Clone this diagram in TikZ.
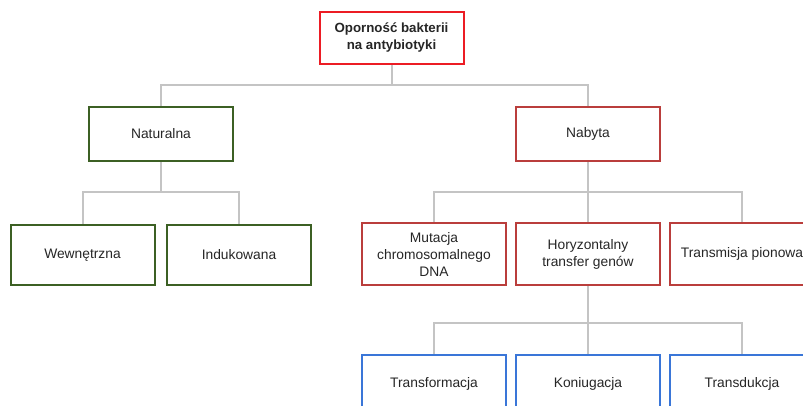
\documentclass[tikz,border=0pt]{standalone}
\usepackage{fontspec}
\setmainfont{Liberation Sans}
\usetikzlibrary{backgrounds}
\begin{document}
\begin{tikzpicture}[x=1pt,y=-1pt,
  font=\fontsize{13.8}{17}\selectfont,
  box/.style={draw, line width=2pt, fill=white, text=black!85, align=center,
    minimum width=144pt, inner sep=2pt},
  rootbox/.style={box, draw=rootred, minimum height=52pt, font=\fontsize{13.3}{17}\selectfont\bfseries},
  greenbox/.style={box, draw=natgreen},
  redbox/.style={box, draw=acqred},
  bluebox/.style={box, draw=mechblue, minimum height=58pt},
  link/.style={draw=linkgray, line width=2pt}]
\definecolor{rootred}{RGB}{236,28,36}
\definecolor{natgreen}{RGB}{60,96,36}
\definecolor{acqred}{RGB}{186,62,60}
\definecolor{mechblue}{RGB}{58,118,216}
\definecolor{linkgray}{RGB}{196,196,196}

\useasboundingbox (0,0) rectangle (803,406);
\clip (0,0) rectangle (803,406);

% top level
\node[rootbox] (root) at (391.5,38) {Oporność bakterii\\na antybiotyki};

% second level
\node[greenbox, minimum height=54pt] (nat) at (161,134) {Naturalna};
\node[redbox, minimum height=54pt] (nab) at (588,134) {Nabyta};

% third level
\node[greenbox, minimum height=60pt] (wew) at (82.5,255) {Wewnętrzna};
\node[greenbox, minimum height=60pt] (ind) at (239,255) {Indukowana};
\node[redbox, minimum height=61pt] (mut) at (434,254) {Mutacja\\chromosomalnego\\DNA};
\node[redbox, minimum height=61pt] (hor) at (588,254) {Horyzontalny\\transfer genów};
\node[redbox, minimum height=61pt] (tpi) at (742,254) {Transmisja pionowa};

% fourth level
\node[bluebox] (tfm) at (434,384) {Transformacja};
\node[bluebox] (kon) at (588,384) {Koniugacja};
\node[bluebox] (tdk) at (742,384) {Transdukcja};

% junction points on the horizontal bars
\coordinate (j0) at (root.south |- 0,85);
\coordinate (j1) at (nat.south |- 0,192);
\coordinate (j2) at (nab.south |- 0,192);
\coordinate (j3) at (hor.south |- 0,323);

% connectors sit behind the boxes
\begin{pgfonlayer}{background}
\path[link] (root.south) -- (j0) -| (nat.north);
\path[link] (j0) -| (nab.north);
\path[link] (nat.south) -- (j1) -| (wew.north);
\path[link] (j1) -| (ind.north);
\path[link] (nab.south) -- (j2) -| (mut.north);
\path[link] (j2) -- (hor.north);
\path[link] (j2) -| (tpi.north);
\path[link] (hor.south) -- (j3) -| (tfm.north);
\path[link] (j3) -- (kon.north);
\path[link] (j3) -| (tdk.north);
\end{pgfonlayer}
\end{tikzpicture}
\end{document}
